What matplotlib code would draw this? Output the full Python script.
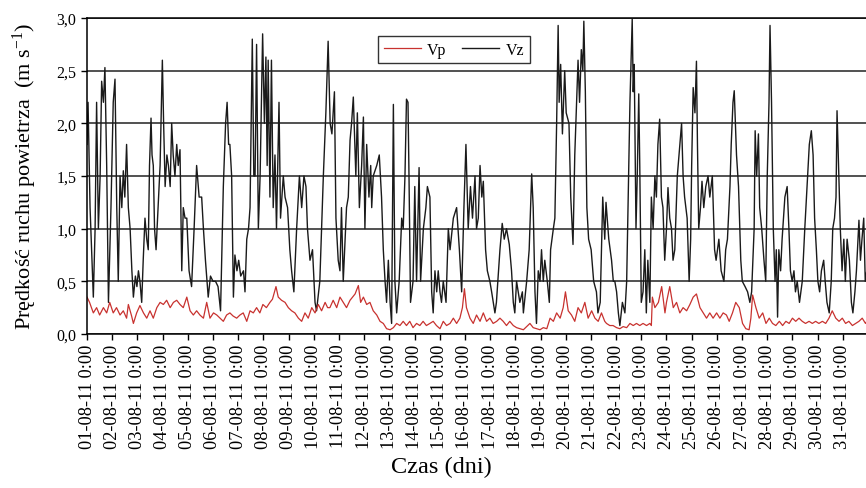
import numpy as np
import matplotlib
matplotlib.use("Agg")
from matplotlib import pyplot as plt

plt.rcParams['font.family'] = ['Liberation Serif', 'DejaVu Serif']
plt.rcParams['mathtext.fontset'] = 'custom'
plt.rcParams['mathtext.rm'] = 'Liberation Serif'
plt.rcParams['mathtext.it'] = 'Liberation Serif:italic'

# Vz: (dzień od 01-08-11 0:00, m/s)
vz_points = [
    (0.00, 1.8), (0.04, 2.2), (0.12, 1.2), (0.25, 0.35), (0.32, 1.0), (0.38, 2.2),
    (0.45, 1.0), (0.52, 1.5), (0.58, 2.4), (0.65, 2.2), (0.71, 2.53), (0.78, 1.6),
    (0.85, 0.3), (0.95, 1.2), (1.04, 2.2), (1.11, 2.42), (1.18, 1.2), (1.24, 0.5),
    (1.31, 1.5), (1.38, 1.2), (1.44, 1.55), (1.50, 1.3), (1.57, 1.8), (1.64, 1.2),
    (1.71, 1.0), (1.78, 0.6), (1.84, 0.35), (1.92, 0.55), (1.98, 0.45), (2.04, 0.6),
    (2.10, 0.5), (2.17, 0.3), (2.23, 0.7), (2.30, 1.1), (2.37, 0.9), (2.43, 0.8),
    (2.48, 1.6), (2.54, 2.05), (2.58, 1.7), (2.63, 1.6), (2.68, 1.0), (2.74, 0.8),
    (2.82, 1.2), (2.90, 1.6), (2.99, 2.6), (3.04, 2.0), (3.10, 1.4), (3.17, 1.7),
    (3.23, 1.6), (3.30, 1.4), (3.36, 2.0), (3.42, 1.7), (3.49, 1.5), (3.56, 1.8),
    (3.62, 1.6), (3.69, 1.75), (3.76, 0.6), (3.82, 1.2), (3.89, 1.1), (3.96, 1.1),
    (4.05, 0.6), (4.15, 0.45), (4.25, 1.0), (4.35, 1.6), (4.45, 1.3), (4.55, 1.3),
    (4.62, 1.0), (4.70, 0.7), (4.81, 0.35), (4.90, 0.55), (5.00, 0.5), (5.10, 0.5),
    (5.20, 0.45), (5.30, 0.22), (5.41, 1.4), (5.50, 2.0), (5.56, 2.2), (5.62, 1.8),
    (5.67, 1.8), (5.74, 1.5), (5.81, 0.35), (5.87, 0.75), (5.95, 0.6), (6.02, 0.7),
    (6.10, 0.55), (6.21, 0.6), (6.27, 0.4), (6.34, 0.9), (6.41, 1.0), (6.47, 1.2),
    (6.56, 2.8), (6.62, 1.5), (6.67, 1.5), (6.73, 2.75), (6.80, 1.0), (6.87, 1.5),
    (6.97, 2.85), (7.04, 2.0), (7.10, 2.63), (7.15, 1.6), (7.19, 2.6), (7.26, 1.3),
    (7.32, 2.6), (7.39, 1.2), (7.46, 1.7), (7.52, 1.0), (7.62, 2.2), (7.68, 1.1),
    (7.79, 1.5), (7.86, 1.3), (7.96, 1.2), (8.05, 0.8), (8.12, 0.6), (8.21, 0.4),
    (8.32, 1.0), (8.43, 1.5), (8.52, 1.2), (8.61, 1.5), (8.69, 1.4), (8.75, 1.0),
    (8.85, 0.7), (8.95, 0.8), (9.05, 0.3), (9.11, 0.22), (9.24, 0.5), (9.38, 1.5),
    (9.48, 2.1), (9.57, 2.78), (9.65, 2.0), (9.72, 1.9), (9.82, 2.3), (9.88, 1.1),
    (9.97, 0.7), (10.04, 0.6), (10.10, 1.2), (10.17, 0.5), (10.30, 1.2), (10.37, 1.3),
    (10.44, 1.84), (10.50, 2.0), (10.57, 2.25), (10.67, 1.5), (10.73, 2.1), (10.81, 1.2),
    (10.90, 1.6), (10.97, 2.06), (11.03, 1.0), (11.10, 1.8), (11.19, 1.3), (11.26, 1.6),
    (11.30, 1.2), (11.36, 1.5), (11.50, 1.6), (11.60, 1.7), (11.69, 1.3), (11.76, 0.8),
    (11.83, 0.5), (11.89, 0.3), (11.96, 0.7), (12.03, 0.3), (12.09, 0.1), (12.16, 2.18),
    (12.22, 0.5), (12.29, 0.2), (12.39, 0.5), (12.49, 1.1), (12.55, 1.0), (12.62, 1.5),
    (12.68, 2.23), (12.74, 2.2), (12.78, 1.5), (12.84, 0.3), (12.94, 0.5), (13.01, 1.4),
    (13.08, 0.5), (13.18, 1.58), (13.24, 0.5), (13.35, 1.0), (13.45, 1.2), (13.51, 1.4),
    (13.61, 1.3), (13.68, 0.4), (13.74, 0.2), (13.81, 0.6), (13.88, 0.4), (13.94, 0.6),
    (14.01, 0.4), (14.07, 0.3), (14.14, 0.5), (14.25, 0.3), (14.34, 1.0), (14.41, 0.8),
    (14.54, 1.1), (14.67, 1.2), (14.78, 0.8), (14.87, 0.4), (14.96, 1.2), (15.04, 1.8),
    (15.13, 1.0), (15.22, 1.4), (15.30, 1.1), (15.40, 1.5), (15.46, 1.0), (15.53, 1.1),
    (15.60, 1.6), (15.67, 1.3), (15.73, 1.45), (15.82, 0.8), (15.89, 0.6), (15.99, 0.5),
    (16.06, 0.4), (16.19, 0.2), (16.25, 0.3), (16.39, 0.8), (16.48, 1.05), (16.56, 0.9),
    (16.65, 1.0), (16.76, 0.85), (16.85, 0.6), (16.92, 0.3), (16.98, 0.2), (17.05, 0.5),
    (17.18, 0.3), (17.28, 0.4), (17.32, 0.2), (17.45, 0.5), (17.55, 0.8), (17.65, 1.52),
    (17.71, 1.2), (17.78, 0.4), (17.84, 0.1), (17.91, 0.6), (17.98, 0.5), (18.04, 0.8),
    (18.11, 0.5), (18.17, 0.7), (18.27, 0.5), (18.35, 0.3), (18.40, 0.8), (18.51, 1.0),
    (18.57, 1.1), (18.64, 2.0), (18.70, 2.93), (18.74, 2.2), (18.80, 2.56), (18.87, 1.9),
    (18.96, 2.5), (19.02, 2.1), (19.13, 2.0), (19.20, 1.3), (19.29, 0.85), (19.36, 1.7),
    (19.49, 2.6), (19.55, 2.2), (19.62, 2.7), (19.68, 2.5), (19.72, 2.97), (19.78, 2.3),
    (19.84, 1.2), (19.91, 0.9), (20.01, 0.8), (20.11, 0.5), (20.22, 0.4), (20.28, 0.2),
    (20.37, 0.3), (20.47, 1.3), (20.55, 0.9), (20.60, 1.25), (20.71, 0.9), (20.82, 0.7),
    (20.89, 0.5), (20.95, 0.5), (21.02, 0.4), (21.09, 0.2), (21.15, 0.08), (21.25, 0.3),
    (21.35, 0.2), (21.42, 0.5), (21.48, 1.3), (21.55, 2.2), (21.64, 2.99), (21.68, 2.3),
    (21.72, 2.56), (21.79, 1.0), (21.84, 1.5), (21.90, 2.28), (21.94, 1.6), (22.00, 0.3),
    (22.07, 0.4), (22.14, 0.8), (22.20, 0.2), (22.26, 0.7), (22.34, 0.3), (22.40, 1.3),
    (22.47, 1.0), (22.54, 1.5), (22.60, 1.3), (22.66, 1.8), (22.73, 2.04), (22.80, 1.3),
    (22.86, 1.2), (22.93, 0.7), (23.00, 1.0), (23.06, 1.39), (23.13, 1.1), (23.20, 1.0),
    (23.26, 0.7), (23.33, 0.8), (23.43, 1.5), (23.53, 1.8), (23.60, 2.0), (23.66, 1.5),
    (23.72, 1.3), (23.82, 1.1), (23.90, 0.5), (23.96, 0.9), (24.00, 1.6), (24.06, 2.34),
    (24.13, 2.1), (24.19, 2.59), (24.23, 1.8), (24.28, 1.0), (24.35, 1.2), (24.41, 1.45),
    (24.48, 1.2), (24.56, 1.4), (24.65, 1.5), (24.72, 1.3), (24.82, 1.5), (24.91, 0.8),
    (24.97, 0.7), (25.08, 0.9), (25.17, 0.6), (25.28, 0.5), (25.35, 0.8), (25.42, 0.9),
    (25.52, 1.4), (25.57, 1.8), (25.64, 2.2), (25.69, 2.31), (25.78, 1.7), (25.86, 1.4),
    (25.91, 1.0), (25.95, 0.7), (26.01, 0.5), (26.12, 0.45), (26.22, 0.4), (26.31, 0.3),
    (26.38, 0.4), (26.48, 1.0), (26.52, 1.93), (26.58, 1.5), (26.65, 1.9), (26.70, 1.2),
    (26.78, 1.0), (26.87, 0.7), (26.94, 0.5), (27.00, 1.5), (27.07, 2.2), (27.11, 2.93),
    (27.17, 2.2), (27.24, 1.0), (27.31, 0.5), (27.36, 0.8), (27.41, 0.16), (27.46, 0.8),
    (27.53, 0.6), (27.59, 0.9), (27.70, 1.3), (27.79, 1.4), (27.86, 1.0), (27.92, 0.6),
    (27.99, 0.5), (28.06, 0.6), (28.12, 0.4), (28.19, 0.5), (28.28, 0.3), (28.39, 0.5),
    (28.49, 1.0), (28.58, 1.4), (28.67, 1.8), (28.75, 1.93), (28.82, 1.7), (28.88, 1.1),
    (28.95, 0.8), (29.01, 0.5), (29.08, 0.4), (29.15, 0.6), (29.24, 0.7), (29.30, 0.5),
    (29.37, 0.3), (29.46, 0.2), (29.54, 0.5), (29.60, 1.0), (29.67, 1.1), (29.73, 1.3),
    (29.77, 2.12), (29.84, 1.5), (29.90, 1.0), (29.97, 0.6), (30.04, 0.9), (30.10, 0.5),
    (30.17, 0.9), (30.26, 0.7), (30.34, 0.3), (30.40, 0.2), (30.48, 0.4), (30.54, 0.6),
    (30.64, 1.08), (30.70, 0.7), (30.76, 0.9), (30.83, 1.1), (30.89, 0.5), (30.95, 0.6),
]

# Vp: (dzień, m/s)
vp_points = [
    (0.00, 0.35), (0.10, 0.3), (0.25, 0.2), (0.38, 0.25), (0.50, 0.18), (0.65, 0.25),
    (0.78, 0.2), (0.90, 0.3), (1.04, 0.2), (1.17, 0.25), (1.31, 0.18), (1.44, 0.22),
    (1.57, 0.15), (1.64, 0.28), (1.77, 0.17), (1.84, 0.1), (1.97, 0.2), (2.10, 0.27),
    (2.24, 0.2), (2.37, 0.15), (2.50, 0.22), (2.63, 0.15), (2.77, 0.25), (2.90, 0.3),
    (3.03, 0.28), (3.16, 0.32), (3.30, 0.25), (3.43, 0.3), (3.56, 0.32), (3.69, 0.28),
    (3.82, 0.25), (3.96, 0.35), (4.09, 0.22), (4.22, 0.18), (4.35, 0.22), (4.48, 0.18),
    (4.62, 0.15), (4.75, 0.3), (4.88, 0.15), (5.02, 0.2), (5.15, 0.18), (5.28, 0.15),
    (5.41, 0.12), (5.54, 0.18), (5.67, 0.2), (5.80, 0.17), (5.94, 0.15), (6.07, 0.18),
    (6.20, 0.2), (6.34, 0.12), (6.47, 0.22), (6.60, 0.2), (6.73, 0.25), (6.86, 0.2),
    (6.98, 0.28), (7.12, 0.25), (7.26, 0.3), (7.36, 0.33), (7.50, 0.45), (7.59, 0.35),
    (7.72, 0.32), (7.86, 0.3), (7.99, 0.25), (8.12, 0.22), (8.25, 0.2), (8.39, 0.15),
    (8.52, 0.12), (8.65, 0.2), (8.78, 0.15), (8.92, 0.25), (9.05, 0.2), (9.18, 0.28),
    (9.31, 0.22), (9.45, 0.3), (9.55, 0.25), (9.64, 0.25), (9.77, 0.32), (9.91, 0.25),
    (10.04, 0.35), (10.17, 0.3), (10.30, 0.25), (10.44, 0.32), (10.64, 0.38), (10.77, 0.46),
    (10.86, 0.3), (10.97, 0.35), (11.10, 0.28), (11.23, 0.3), (11.36, 0.22), (11.50, 0.18),
    (11.63, 0.12), (11.76, 0.1), (11.89, 0.05), (12.03, 0.04), (12.16, 0.06), (12.29, 0.1),
    (12.42, 0.08), (12.55, 0.12), (12.68, 0.08), (12.81, 0.12), (12.94, 0.06), (13.08, 0.1),
    (13.21, 0.08), (13.34, 0.12), (13.47, 0.08), (13.61, 0.1), (13.74, 0.12), (13.87, 0.08),
    (14.01, 0.05), (14.14, 0.12), (14.27, 0.08), (14.41, 0.1), (14.54, 0.15), (14.67, 0.1),
    (14.80, 0.15), (14.90, 0.25), (14.98, 0.43), (15.06, 0.25), (15.20, 0.15), (15.33, 0.1),
    (15.46, 0.18), (15.60, 0.12), (15.73, 0.2), (15.86, 0.12), (15.99, 0.15), (16.12, 0.1),
    (16.26, 0.12), (16.39, 0.15), (16.52, 0.12), (16.65, 0.08), (16.78, 0.12), (16.92, 0.08),
    (17.05, 0.06), (17.18, 0.05), (17.32, 0.04), (17.45, 0.07), (17.58, 0.1), (17.71, 0.06),
    (17.84, 0.05), (17.98, 0.04), (18.11, 0.06), (18.25, 0.05), (18.38, 0.15), (18.51, 0.12),
    (18.64, 0.2), (18.78, 0.15), (18.90, 0.25), (18.99, 0.4), (19.10, 0.22), (19.23, 0.18),
    (19.36, 0.12), (19.49, 0.25), (19.62, 0.2), (19.76, 0.3), (19.89, 0.15), (20.03, 0.22),
    (20.16, 0.15), (20.29, 0.12), (20.42, 0.2), (20.55, 0.12), (20.62, 0.1), (20.75, 0.08),
    (20.88, 0.08), (21.02, 0.06), (21.15, 0.05), (21.28, 0.07), (21.42, 0.06), (21.55, 0.1),
    (21.68, 0.08), (21.81, 0.1), (21.94, 0.08), (22.07, 0.1), (22.21, 0.08), (22.34, 0.1),
    (22.40, 0.08), (22.44, 0.35), (22.54, 0.25), (22.68, 0.3), (22.81, 0.45), (22.94, 0.2),
    (23.00, 0.3), (23.13, 0.45), (23.27, 0.25), (23.40, 0.3), (23.53, 0.2), (23.66, 0.25),
    (23.80, 0.22), (23.93, 0.28), (24.06, 0.35), (24.19, 0.38), (24.33, 0.25), (24.46, 0.2),
    (24.59, 0.15), (24.72, 0.2), (24.85, 0.15), (24.99, 0.2), (25.12, 0.15), (25.25, 0.2),
    (25.38, 0.18), (25.49, 0.12), (25.62, 0.2), (25.75, 0.3), (25.89, 0.25), (26.02, 0.1),
    (26.15, 0.05), (26.28, 0.04), (26.35, 0.15), (26.42, 0.37), (26.55, 0.25), (26.68, 0.15),
    (26.82, 0.2), (26.95, 0.1), (27.08, 0.15), (27.21, 0.1), (27.34, 0.08), (27.48, 0.12),
    (27.61, 0.08), (27.74, 0.12), (27.87, 0.1), (28.00, 0.15), (28.13, 0.12), (28.26, 0.15),
    (28.39, 0.12), (28.52, 0.1), (28.66, 0.12), (28.79, 0.1), (28.92, 0.12), (29.05, 0.1),
    (29.19, 0.12), (29.32, 0.1), (29.45, 0.15), (29.58, 0.22), (29.72, 0.15), (29.85, 0.12),
    (29.98, 0.15), (30.11, 0.1), (30.24, 0.12), (30.38, 0.08), (30.51, 0.1), (30.64, 0.12),
    (30.77, 0.15), (30.90, 0.1), (30.95, 0.12),
]

day_numbers = list(range(1, 32))
tick_labels_x = [f"{d:02d}-08-11 0:00" for d in day_numbers]
y_ticks = [0.0, 0.5, 1.0, 1.5, 2.0, 2.5, 3.0]
y_tick_labels = ["0,0", "0,5", "1,0", "1,5", "2,0", "2,5", "3,0"]

vz_t, vz_v = np.array(vz_points).T
vp_t, vp_v = np.array(vp_points).T

fig = plt.figure(figsize=(8.66, 4.89), dpi=100)
ax = fig.add_axes([0.1005, 0.315, 0.8995, 0.646])

line_z, = ax.plot(vz_t, vz_v, color='#1a1a1a', lw=1.0, label='Vz')
line_p, = ax.plot(vp_t, vp_v, color='#c8322f', lw=0.9, label='Vp')

ax.set_xlim(0, 30.92)
ax.set_ylim(0, 3.0)
ax.set_xticks(np.array(day_numbers) - 1)
ax.set_xticklabels(tick_labels_x, rotation=90, fontsize=13.2)
ax.set_yticks(y_ticks)
ax.set_yticklabels(y_tick_labels, fontsize=11.5)
ax.tick_params(axis='both', direction='out', length=4, width=1, color='black')
ax.tick_params(axis='x', pad=3)

ax.grid(axis='y', color='#222222', lw=1.1)
ax.set_axisbelow(True)
ax.spines['right'].set_visible(False)
for s in ['left', 'bottom', 'top']:
    ax.spines[s].set_linewidth(1.1)

ax.set_ylabel("Prędkość ruchu powietrza  (m s$^{-1}$)", fontsize=16, labelpad=13)
ax.set_xlabel("Czas (dni)", fontsize=17.5)
ax.xaxis.set_label_coords(0.455, -0.385)

leg = ax.legend(handles=[line_p, line_z], loc='upper center', bbox_to_anchor=(0.471, 0.968),
                ncol=2, fontsize=11.5, frameon=True, fancybox=False, handlelength=2.3,
                columnspacing=1.0, handletextpad=0.4, borderpad=0.35)
leg.get_frame().set_edgecolor('black')
leg.get_frame().set_linewidth(1.0)

fig.savefig("out.png", dpi=100)
